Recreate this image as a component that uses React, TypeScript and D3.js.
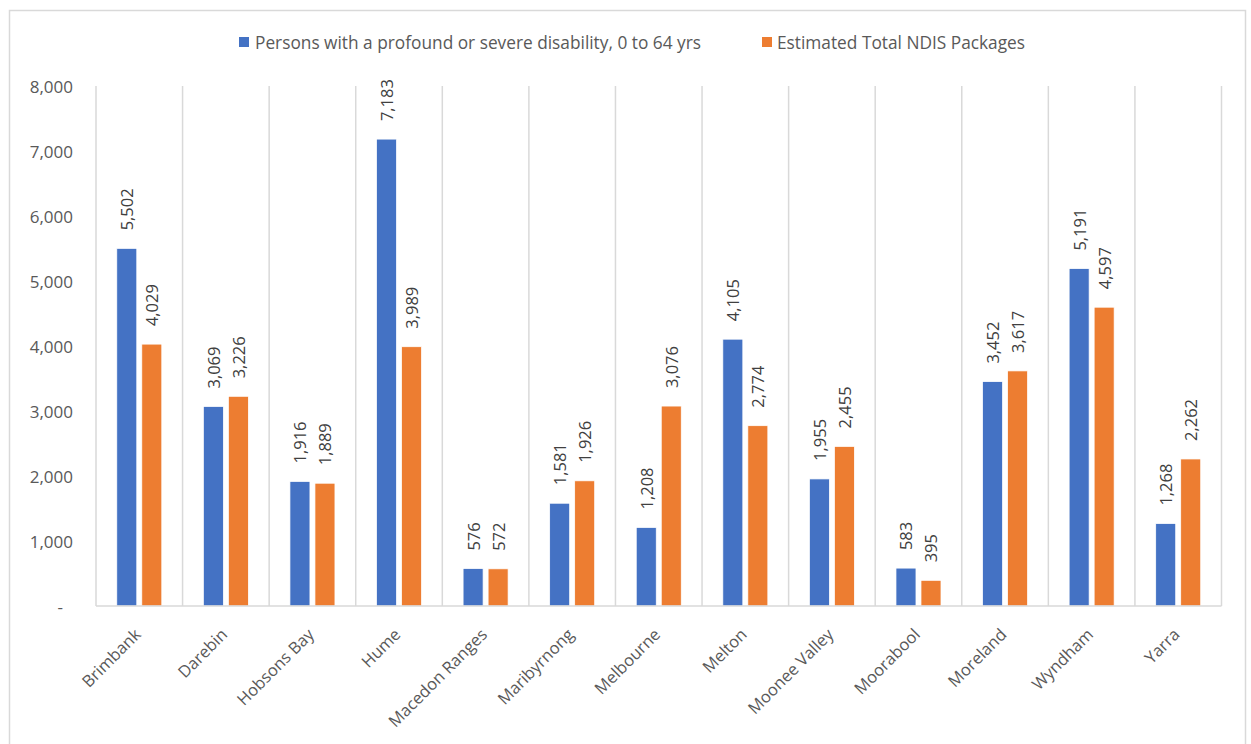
import React from "react";
import * as d3 from "d3";

const categories = [
  "Brimbank", "Darebin", "Hobsons Bay", "Hume", "Macedon Ranges", "Maribyrnong",
  "Melbourne", "Melton", "Moonee Valley", "Moorabool", "Moreland", "Wyndham", "Yarra",
];
const disabilityValues = [5502, 3069, 1916, 7183, 576, 1581, 1208, 4105, 1955, 583, 3452, 5191, 1268];
const ndisValues = [4029, 3226, 1889, 3989, 572, 1926, 3076, 2774, 2455, 395, 3617, 4597, 2262];
const seriesNames = ["Persons with a profound or severe disability, 0 to 64 yrs", "Estimated Total NDIS Packages"];
const yTicks = [0, 1000, 2000, 3000, 4000, 5000, 6000, 7000, 8000];

const W = 1251, H = 744;
const FONT = "'Open Sans', sans-serif";
const TXT = "#595959";
const GRID = "#D9D9D9";
const BLUE = "#4472C4";
const ORANGE = "#ED7D31";

export default function App() {
  const left = 96, right = 1221.5, top = 86, bottom = 606;
  const x = d3.scaleBand<string>().domain(categories).range([left, right]).paddingInner(0).paddingOuter(0);
  const y = d3.scaleLinear().domain([0, 8000]).range([bottom, top]);
  const bw = x.bandwidth();
  const inner = d3.scaleBand<number>().domain([0, 1]).range([bw * 0.24, bw * 0.76]).paddingInner(0.2);
  const fmt = d3.format(",");
  const series = [disabilityValues, ndisValues];
  const colors = [BLUE, ORANGE];

  return (
    <div style={{ position: "absolute", left: 0, top: 0 }}>
      <svg width={W} height={H} style={{ display: "block", background: "#fff" }}>
        <rect x={9.5} y={10.5} width={1236} height={760} fill="#fff" stroke={GRID} strokeWidth={1.5} />
        {categories.map((c, i) => (
          <line key={"g" + i} x1={x(c)!} x2={x(c)!} y1={top} y2={bottom} stroke={GRID} strokeWidth={1.5} />
        ))}
        <line x1={right} x2={right} y1={top} y2={bottom} stroke={GRID} strokeWidth={1.5} />
        {series.map((vals, s) =>
          vals.map((v, i) => {
            const bx = x(categories[i])! + inner(s)!;
            return (
              <rect key={`b${s}-${i}`} x={bx} y={y(v)} width={inner.bandwidth()} height={bottom - y(v)}
                fill={colors[s]} stroke="#fff" strokeWidth={0.75} />
            );
          })
        )}
        <line x1={left} x2={right} y1={bottom} y2={bottom} stroke={GRID} strokeWidth={1.5} />
        {series.map((vals, s) =>
          vals.map((v, i) => {
            const cx = x(categories[i])! + inner(s)! + inner.bandwidth() / 2;
            const ly = y(v) - 18;
            return (
              <text key={`l${s}-${i}`} transform={`translate(${cx},${ly}) rotate(-90)`}
                textAnchor="start" dominantBaseline="central" fontFamily={FONT} fontSize={16.5} fill="#404040">
                {fmt(v)}
              </text>
            );
          })
        )}
        {yTicks.map((t) => (
          <text key={"y" + t} x={t === 0 ? 63 : 73} y={y(t)} textAnchor="end" dominantBaseline="central"
            fontFamily={FONT} fontSize={17} fill={TXT}>
            {t === 0 ? "-" : fmt(t)}
          </text>
        ))}
        {categories.map((c) => {
          const cx = x(c)! + bw / 2 - 2;
          return (
            <text key={"c" + c} transform={`translate(${cx},${631}) rotate(-45)`} textAnchor="end"
              dominantBaseline="central" fontFamily={FONT} fontSize={16.5} fill={TXT}>
              {c}
            </text>
          );
        })}
        <rect x={239} y={37} width={10} height={10} fill={BLUE} />
        <text x={255} y={42} dominantBaseline="central" fontFamily={FONT} fontSize={17.3} fill={TXT}>{seriesNames[0]}</text>
        <rect x={762} y={37} width={10} height={10} fill={ORANGE} />
        <text x={777} y={42} dominantBaseline="central" fontFamily={FONT} fontSize={17.3} fill={TXT}>{seriesNames[1]}</text>
      </svg>
    </div>
  );
}
